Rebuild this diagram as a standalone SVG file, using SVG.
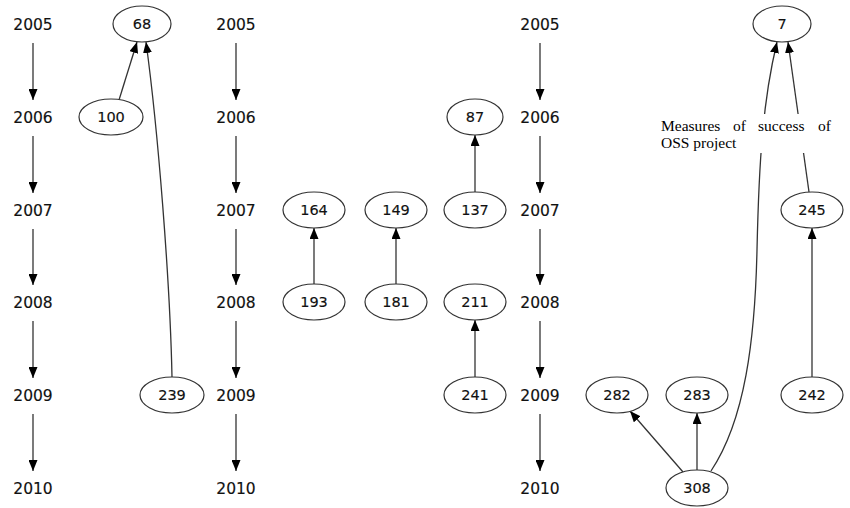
<svg xmlns="http://www.w3.org/2000/svg" width="850" height="508" viewBox="0 0 850 508">
<style>
.yr{font-family:"DejaVu Sans",sans-serif;font-size:15.5px;fill:#111;text-anchor:middle;stroke:#111;stroke-width:0.15}
.lb{font-family:"DejaVu Sans",sans-serif;font-size:14.5px;fill:#111;text-anchor:middle;stroke:#111;stroke-width:0.15}
.nd{fill:#fff;stroke:#333;stroke-width:1.2}
.ed{fill:none;stroke:#333;stroke-width:1.3;marker-end:url(#ah)}
.note{font-family:"Liberation Serif",serif;font-size:15.5px;fill:#000}
</style>
<defs>
<marker id="ah" markerWidth="12" markerHeight="9" refX="11" refY="4.5" orient="auto" markerUnits="userSpaceOnUse">
<path d="M0,0 L11,4.5 L0,9 z" fill="#000"/>
</marker>
</defs>
<rect width="850" height="508" fill="#fff"/>
<g id="years">
<text class="yr" x="33" y="29.5">2005</text>
<text class="yr" x="33" y="122.5">2006</text>
<text class="yr" x="33" y="215.5">2007</text>
<text class="yr" x="33" y="307.5">2008</text>
<text class="yr" x="33" y="400.5">2009</text>
<text class="yr" x="33" y="493.5">2010</text>
<text class="yr" x="236" y="29.5">2005</text>
<text class="yr" x="236" y="122.5">2006</text>
<text class="yr" x="236" y="215.5">2007</text>
<text class="yr" x="236" y="307.5">2008</text>
<text class="yr" x="236" y="400.5">2009</text>
<text class="yr" x="236" y="493.5">2010</text>
<text class="yr" x="540" y="29.5">2005</text>
<text class="yr" x="540" y="122.5">2006</text>
<text class="yr" x="540" y="215.5">2007</text>
<text class="yr" x="540" y="307.5">2008</text>
<text class="yr" x="540" y="400.5">2009</text>
<text class="yr" x="540" y="493.5">2010</text>
</g>
<g id="connectors">
<path class="ed" d="M33,43 L33,100"/>
<path class="ed" d="M33,136 L33,193"/>
<path class="ed" d="M33,229 L33,285"/>
<path class="ed" d="M33,321 L33,378"/>
<path class="ed" d="M33,414 L33,471"/>
<path class="ed" d="M236,43 L236,100"/>
<path class="ed" d="M236,136 L236,193"/>
<path class="ed" d="M236,229 L236,285"/>
<path class="ed" d="M236,321 L236,378"/>
<path class="ed" d="M236,414 L236,471"/>
<path class="ed" d="M540,43 L540,100"/>
<path class="ed" d="M540,136 L540,193"/>
<path class="ed" d="M540,229 L540,285"/>
<path class="ed" d="M540,321 L540,378"/>
<path class="ed" d="M540,414 L540,471"/>
<path class="ed" d="M119,100 L137,42"/>
<path class="ed" d="M172,377 C170,280 158,130 146,42"/>
<path class="ed" d="M314,284 L314,228"/>
<path class="ed" d="M396,284 L396,228"/>
<path class="ed" d="M475,192 L475,135"/>
<path class="ed" d="M475,377 L475,320"/>
<path class="ed" d="M812,377 L812,228"/>
<path class="ed" d="M809,192 L788,42"/>
<path class="ed" d="M711,471 C745,420 755,340 757,250 C759,160 763,100 777,42"/>
<path class="ed" d="M697,470 L697,413"/>
<path class="ed" d="M683,472 L630,411"/>
</g>
<g id="n68"><ellipse class="nd" cx="142" cy="24" rx="29" ry="18"/><text class="lb" x="142" y="29">68</text></g>
<g id="n100"><ellipse class="nd" cx="111" cy="117" rx="32" ry="18"/><text class="lb" x="111" y="122">100</text></g>
<g id="n239"><ellipse class="nd" cx="172" cy="395" rx="32" ry="18"/><text class="lb" x="172" y="400">239</text></g>
<g id="n164"><ellipse class="nd" cx="314" cy="210" rx="31" ry="18"/><text class="lb" x="314" y="215">164</text></g>
<g id="n149"><ellipse class="nd" cx="396" cy="210" rx="31" ry="18"/><text class="lb" x="396" y="215">149</text></g>
<g id="n193"><ellipse class="nd" cx="314" cy="302" rx="31" ry="18"/><text class="lb" x="314" y="307">193</text></g>
<g id="n181"><ellipse class="nd" cx="396" cy="302" rx="31" ry="18"/><text class="lb" x="396" y="307">181</text></g>
<g id="n87"><ellipse class="nd" cx="475" cy="117" rx="28" ry="18"/><text class="lb" x="475" y="122">87</text></g>
<g id="n137"><ellipse class="nd" cx="475" cy="210" rx="31" ry="18"/><text class="lb" x="475" y="215">137</text></g>
<g id="n211"><ellipse class="nd" cx="475" cy="302" rx="31" ry="18"/><text class="lb" x="475" y="307">211</text></g>
<g id="n241"><ellipse class="nd" cx="475" cy="395" rx="31" ry="18"/><text class="lb" x="475" y="400">241</text></g>
<g id="n7"><ellipse class="nd" cx="782" cy="24" rx="29" ry="18"/><text class="lb" x="782" y="29">7</text></g>
<g id="n245"><ellipse class="nd" cx="812" cy="210" rx="31" ry="18"/><text class="lb" x="812" y="215">245</text></g>
<g id="n242"><ellipse class="nd" cx="812" cy="395" rx="31" ry="18"/><text class="lb" x="812" y="400">242</text></g>
<g id="n282"><ellipse class="nd" cx="617" cy="395" rx="31" ry="18"/><text class="lb" x="617" y="400">282</text></g>
<g id="n283"><ellipse class="nd" cx="697" cy="395" rx="31" ry="18"/><text class="lb" x="697" y="400">283</text></g>
<g id="n308"><ellipse class="nd" cx="697" cy="488" rx="31" ry="18"/><text class="lb" x="697" y="493">308</text></g>
<g id="note">
<rect x="658" y="114" width="177" height="39" fill="#fff"/>
<text class="note" y="131"><tspan x="661">Measures</tspan><tspan x="733">of</tspan><tspan x="758">success</tspan><tspan x="818">of</tspan></text>
<text class="note" x="661" y="148">OSS project</text>
</g>
</svg>
